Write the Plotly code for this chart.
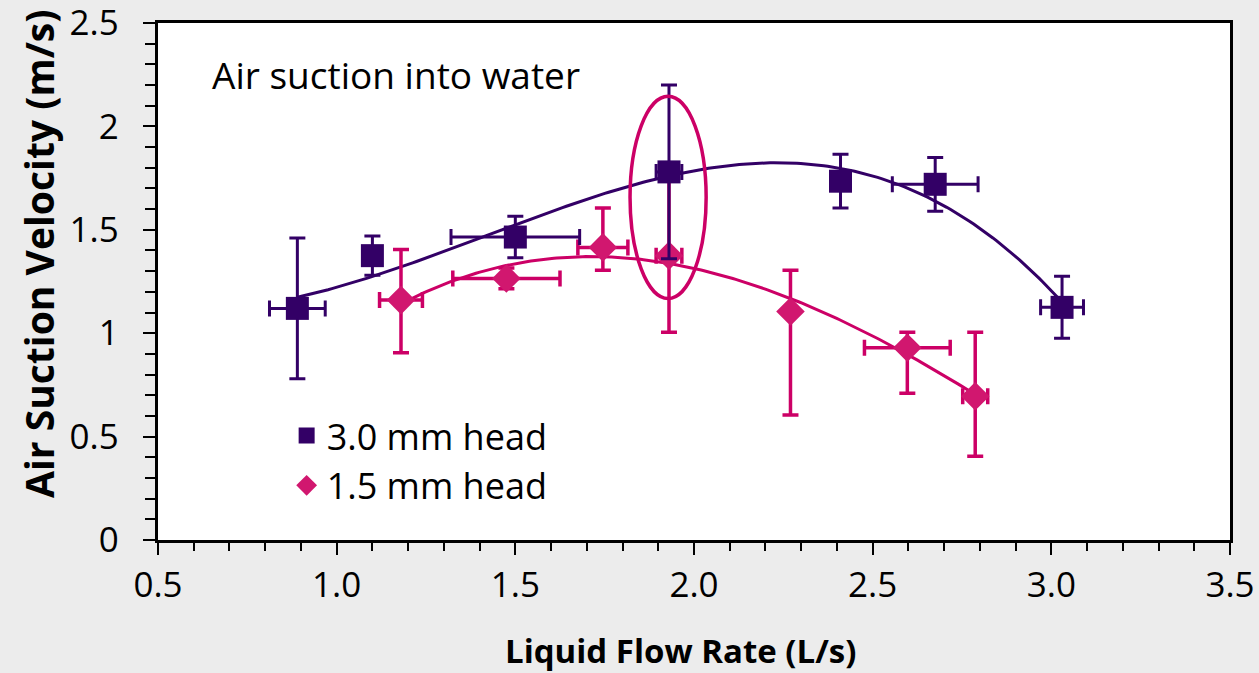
import numpy as np
import plotly.graph_objects as go

# 3.0 mm head (squares)
x30 = [0.89, 1.10, 1.50, 1.93, 2.41, 2.675, 3.03]
y30 = [1.12, 1.375, 1.465, 1.78, 1.735, 1.72, 1.125]
ey30 = [0.34, 0.095, 0.10, 0.42, 0.13, 0.13, 0.15]
ex30 = [0.078, 0.0, 0.18, 0.036, 0.0, 0.12, 0.06]

# 1.5 mm head (diamonds)
x15 = [1.18, 1.475, 1.745, 1.93, 2.27, 2.597, 2.787]
y15 = [1.16, 1.265, 1.415, 1.375, 1.105, 0.93, 0.695]
ey15_plus = [0.245, 0.05, 0.19, 0.37, 0.20, 0.075, 0.31]
ey15_minus = [0.255, 0.05, 0.11, 0.37, 0.50, 0.22, 0.29]
ex15 = [0.06, 0.15, 0.07, 0.036, 0.0, 0.12, 0.035]

x_ticks = [0.5, 1.0, 1.5, 2.0, 2.5, 3.0, 3.5]
x_ticklabels = ["0.5", "1.0", "1.5", "2.0", "2.5", "3.0", "3.5"]
y_ticks = [0, 0.5, 1, 1.5, 2, 2.5]
y_ticklabels = ["0", "0.5", "1", "1.5", "2", "2.5"]

PURPLE = "#330066"
PINK = "#cc0066"
PINK_M = "#d1176f"
FONT = "Open Sans"

fig = go.Figure()

# trendlines (3rd order polynomial fits of the data)
for xs, ys, col, w in [(x15, y15, PINK, 3), (x30, y30, PURPLE, 3)]:
    c = np.polyfit(xs, ys, 3)
    xf = np.linspace(min(xs), max(xs), 200)
    fig.add_trace(go.Scatter(x=xf, y=np.polyval(c, xf), mode="lines",
                             line=dict(color=col, width=w), showlegend=False,
                             hoverinfo="skip"))

fig.add_trace(go.Scatter(
    x=x15, y=y15, mode="markers", name="1.5 mm head", legendgroup="b",
    marker=dict(symbol="diamond", size=22, color=PINK_M),
    error_y=dict(type="data", symmetric=False, array=ey15_plus, arrayminus=ey15_minus,
                 color=PINK, thickness=3.5, width=8),
    error_x=dict(type="data", array=ex15, color=PINK, thickness=3.5, width=8),
))
fig.add_trace(go.Scatter(
    x=x30, y=y30, mode="markers", name="3.0 mm head", legendgroup="a",
    marker=dict(symbol="square", size=23, color=PURPLE),
    error_y=dict(type="data", array=ey30, color=PURPLE, thickness=3, width=8),
    error_x=dict(type="data", array=ex30, color=PURPLE, thickness=3, width=8),
))

# highlight ellipse
fig.add_shape(type="circle", xref="x", yref="y", x0=1.821, x1=2.034, y0=1.168, y1=2.146,
              line=dict(color=PINK, width=3.5))

fig.add_annotation(x=0.5 + (212 - 160) / 357.3, y=2.253, xref="x", yref="y",
                   text="Air suction into water", showarrow=False, xanchor="left",
                   font=dict(family=FONT, size=37, color="black"))

fig.add_annotation(x=(680 - 158) / 1072, y=(540 - 650) / 517, xref="paper", yref="paper",
                   xanchor="center", yanchor="middle",
                   text="<b>Liquid Flow Rate (L/s)</b>", showarrow=False,
                   font=dict(family=FONT, size=33, color="black"))
fig.add_annotation(x=(38 - 158) / 1072, y=(540 - 254) / 517, xref="paper", yref="paper",
                   xanchor="center", yanchor="middle", textangle=-90,
                   text="<b>Air Suction Velocity (m/s)</b>", showarrow=False,
                   font=dict(family=FONT, size=39, color="black"))

fig.update_layout(
    width=1259, height=673,
    margin=dict(l=158, r=29, t=23, b=133, autoexpand=False),
    paper_bgcolor="#ececec", plot_bgcolor="white",
    font=dict(family=FONT, size=35, color="black"),
    legend=dict(x=0.12, y=0.26, xanchor="left", yanchor="top", traceorder="reversed",
                bgcolor="rgba(0,0,0,0)", font=dict(size=36), itemwidth=30,
                tracegroupgap=12),
    showlegend=True,
)
fig.update_xaxes(range=[0.5, 3.5], tickvals=x_ticks, ticktext=x_ticklabels,
                 showgrid=False, zeroline=False, showline=True, linecolor="black",
                 linewidth=2.5, mirror=True, ticks="outside", ticklen=12, tickwidth=1.5,
                 tickcolor="black", ticklabeloverflow="allow",
                 minor=dict(dtick=0.1, ticks="outside", ticklen=8, tickwidth=1.5, tickcolor="black"))
fig.update_yaxes(range=[0, 2.5], tickvals=y_ticks,
                 ticktext=[t + "\u2002" for t in y_ticklabels],
                 showgrid=False, zeroline=False, showline=True, linecolor="black",
                 linewidth=2.5, mirror=True, ticks="outside", ticklen=12, tickwidth=1.5,
                 tickcolor="black", ticklabeloverflow="allow",
                 minor=dict(dtick=0.1, ticks="outside", ticklen=10, tickwidth=1.5, tickcolor="black"))

fig.write_html("out.html")
